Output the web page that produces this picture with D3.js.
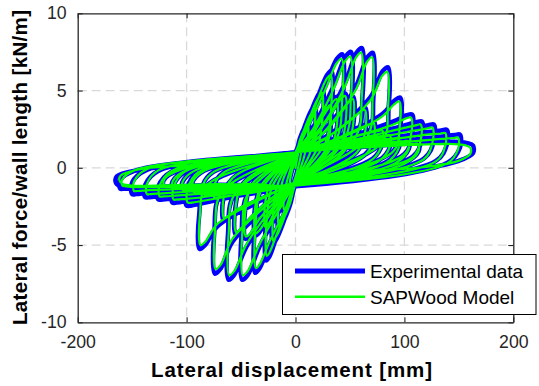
<!DOCTYPE html>
<html>
<head>
<meta charset="utf-8">
<script src="https://cdn.jsdelivr.net/npm/d3@7"></script>
<style>
  html, body { margin: 0; padding: 0; background: #fff; }
  svg { display: block; font-family: "Liberation Sans", Arial, Helvetica, sans-serif; }
</style>
</head>
<body>
<svg id="chart" width="539" height="386"></svg>
<script>
// Cyclic racking test of a wood shear wall: lateral displacement [mm] vs force per wall length [kN/m]
const xTicks = [-200, -100, 0, 100, 200];
const xTickLabels = ["-200", "-100", "0", "100", "200"];
const yTicks = [-10, -5, 0, 5, 10];
const yTickLabels = ["-10", "-5", "0", "5", "10"];
const seriesNames = ["Experimental data", "SAPWood Model"];
const seriesColors = ["#0000ff", "#00ff00"];

// Measured hysteresis, [displacement, force] in loading order
// (each primary cycle from 43 mm on is followed by a smaller trailing cycle)
const experimental = [
  [0,0],[3,1.2],[6,1.9],[5.5,1.0],[3,0.2],[0,-0.6],[-3,-1.3],[-6,-1.8],[-5.5,-0.9],[-3,-0.1],[0,0.6],
  [4,1.9],[9,2.7],[12,3.0],[11,1.6],[7,0.5],[0,-0.9],[-4,-1.9],[-8,-2.6],[-11,-2.9],[-10,-1.5],[-6,-0.4],[0,0.9],
  [6,2.2],[13,3.5],[16.5,3.95],[18,4.1],[18,2.6],[14,1.1],[0,-1.0],[-5,-2.4],[-12,-3.6],[-15,-3.9],[-16,-4.0],[-16,-2.4],[-12,-0.9],[0,1.0],
  [8,2.4],[18,4.3],[22.5,4.9],[25,5.1],[25,3.1],[20,1.3],[0,-1.1],[-7,-2.7],[-16,-4.4],[-19.5,-4.85],[-21,-5.0],[-21,-3.0],[-16.5,-1.1],[0,1.0],
  [10,2.6],[20,4.5],[29,6.0],[33,6.3],[33.3,3.9],[28,1.7],[0,-1.1],[-8,-2.8],[-17,-4.4],[-24,-5.75],[-27,-6.0],[-27.2,-3.6],[-22,-1.3],[0,1.0],
  [12,2.8],[27,5.2],[38,7.05],[43,7.35],[43.5,4.4],[38,1.9],[0,-1.1],[-10,-2.9],[-23,-4.8],[-33,-6.5],[-37,-6.8],[-37.5,-4.0],[-32,-1.5],[0,1.0],
  [10,1.8],[22,3.2],[29,4.0],[32,4.2],[32.3,2.6],[27,1.1],[0,-1.0],[-9,-1.9],[-20,-3.1],[-25.5,-3.85],[-28,-4.0],[-28.3,-2.4],[-23,-1.0],[0,1.0],
  [16,2.6],[35,5.3],[46,7.2],[51,7.5],[51.5,4.5],[46,2.0],[0,-1.1],[-14,-2.7],[-33,-5.1],[-44,-6.95],[-49,-7.25],[-49.5,-4.3],[-44,-1.7],[0,1.0],
  [12,1.8],[26,3.5],[34.5,4.4],[38,4.6],[38.3,2.8],[32,1.2],[0,-1.0],[-11,-1.9],[-26,-3.4],[-33.5,-4.2],[-37,-4.4],[-37.3,-2.6],[-31,-1.1],[0,1.0],
  [22,2.6],[45,5.4],[56,7.45],[61,7.75],[61.5,4.6],[56,2.1],[0,-1.1],[-20,-2.6],[-45,-5.1],[-56.5,-6.95],[-61.5,-7.25],[-62,-4.3],[-56,-1.7],[0,1.0],
  [15,1.8],[33,3.6],[42,4.6],[46,4.8],[46.3,3.0],[40,1.3],[0,-1.0],[-14,-1.9],[-33,-3.4],[-42,-4.4],[-46,-4.6],[-46.3,-2.8],[-40,-1.1],[0,1.0],
  [28,2.5],[55,5.2],[66,7.15],[71,7.45],[71.5,4.5],[66,2.0],[0,-1.0],[-26,-2.5],[-58,-4.8],[-69,-6.55],[-74,-6.85],[-74.5,-4.1],[-68,-1.6],[0,1.0],
  [18,1.8],[39,3.5],[49,4.4],[53,4.6],[53.3,2.9],[46,1.2],[0,-1.0],[-18,-1.8],[-40,-3.2],[-51,-4.1],[-55,-4.3],[-55.3,-2.6],[-48,-1.0],[0,1.0],
  [34,2.3],[69,4.6],[80,6.25],[85,6.5],[85.5,3.9],[80,1.7],[0,-1.0],[-34,-2.2],[-72,-3.8],[-83,-5.0],[-88,-5.25],[-88.5,-3.1],[-82,-1.2],[0,1.0],
  [22,1.7],[47,3.0],[59.5,3.75],[64,3.9],[64.3,2.4],[56,1.0],[0,-1.0],[-22,-1.7],[-49,-2.6],[-62,-3.25],[-66,-3.4],[-66.3,-2.0],[-58,-0.7],[0,1.0],
  [40,2.0],[80,3.5],[91,4.35],[96,4.55],[96.5,2.8],[90,1.1],[0,-1.0],[-40,-1.6],[-86,-2.3],[-96,-2.45],[-100,-2.45],[-100,-1.4],[-90,-0.3],[0,1.0],
  [26,1.6],[54,2.5],[67.5,2.9],[72,3.0],[72.2,1.9],[63,0.8],[0,-1.0],[-26,-1.5],[-57,-1.85],[-71,-2.0],[-75,-2.0],[-75.2,-1.2],[-66,-0.3],[0,1.0],
  [45,1.9],[90,3.0],[102,3.4],[107,3.45],[107,2.2],[100,0.9],[0,-1.05],[-45,-1.6],[-98,-2.15],[-109,-2.25],[-113,-2.25],[-113,-1.3],[-102,-0.3],[0,1.0],
  [30,1.5],[60,2.2],[75.5,2.45],[80,2.5],[80,1.6],[71,0.6],[0,-1.05],[-30,-1.4],[-65,-1.7],[-81,-1.8],[-85,-1.8],[-85,-1.1],[-75,-0.25],[0,1.0],
  [50,1.8],[98,2.7],[111,2.95],[116,3.0],[116,1.9],[108,0.75],[0,-1.1],[-50,-1.5],[-110,-1.95],[-122,-2.05],[-126,-2.05],[-126,-1.2],[-114,-0.25],[0,1.0],
  [33,1.5],[66,2.0],[82.5,2.15],[87,2.2],[87,1.4],[77,0.5],[0,-1.1],[-33,-1.35],[-73,-1.55],[-91,-1.6],[-95,-1.6],[-95,-1.0],[-84,-0.2],[0,1.0],
  [55,1.7],[108,2.55],[122,2.75],[127,2.8],[127,1.75],[118,0.6],[0,-1.15],[-55,-1.4],[-122,-1.8],[-134,-1.9],[-138,-1.9],[-138,-1.1],[-126,-0.2],[0,1.0],
  [36,1.45],[72,1.85],[90.5,1.97],[95,2.0],[95,1.3],[84,0.4],[0,-1.1],[-36,-1.3],[-80,-1.45],[-100,-1.5],[-104,-1.5],[-104,-0.95],[-92,-0.15],[0,1.0],
  [60,1.6],[120,2.3],[134,2.42],[139,2.45],[139,1.5],[129,0.45],[0,-1.15],[-60,-1.3],[-134,-1.6],[-146,-1.7],[-150,-1.7],[-150,-0.95],[-137,-0.15],[0,1.0],
  [40,1.4],[79,1.7],[99.5,1.78],[104,1.8],[104,1.2],[92,0.35],[0,-1.15],[-40,-1.2],[-87,-1.35],[-109,-1.4],[-113,-1.4],[-113,-0.9],[-100,-0.15],[0,1.0],
  [65,1.5],[131,2.0],[146,2.12],[151,2.15],[151,1.3],[140,0.35],[0,-1.2],[-65,-1.2],[-145,-1.35],[-157,-1.35],[-161,-1.35],[-161,-0.8],[-148,-0.2],[0,1.0],
  [43,1.35],[86,1.55],[108.5,1.6],[113,1.6],[113,1.05],[100,0.3],[0,-1.15],[-43,-1.1],[-94,-1.2],[-117,-1.2],[-121,-1.2],[-121,-0.8],[-107,-0.15],[0,1.0],
  [70,1.4],[140,1.7],[158,1.6],[163,1.45],[163,0.95],[150,0.45],[120,0.0],[47,-0.4],[0,-1.2],[-70,-1.1],[-150,-1.3],[-161,-1.2],[-165,-0.95],[-164,-0.55],[-144,-0.14],[-114,0.07],[-51,0.33],[0,1.0]
];

// SAPWood numerical prediction, [displacement, force] in loading order
const model = [
  [0,0],[3,1.1],[5.5,1.75],[5,0.9],[2.8,0.15],[0,-0.6],[-3,-1.2],[-5.5,-1.65],[-5,-0.8],[-2.8,-0.1],[0,0.6],
  [4,1.8],[8.8,2.55],[11.5,2.8],[10.5,1.5],[6.8,0.45],[0,-0.9],[-4,-1.8],[-7.8,-2.45],[-10.5,-2.7],[-9.5,-1.4],[-5.8,-0.35],[0,0.9],
  [6,2.1],[12.8,3.3],[16.2,3.7],[17.5,3.85],[17.5,2.5],[13.8,1.05],[0,-1.0],[-5,-2.3],[-11.8,-3.4],[-14.6,-3.65],[-15.5,-3.75],[-15.5,-2.3],[-11.8,-0.85],[0,1.0],
  [8,2.3],[17.8,4.1],[22.2,4.65],[24.5,4.85],[24.5,3.0],[19.8,1.25],[0,-1.05],[-7,-2.6],[-15.8,-4.2],[-19.2,-4.6],[-20.5,-4.75],[-20.5,-2.9],[-16.3,-1.05],[0,1.0],
  [10,2.5],[20,4.35],[28.6,5.75],[32.3,6.0],[32.6,3.8],[27.6,1.65],[0,-1.05],[-8,-2.7],[-17,-4.25],[-23.6,-5.45],[-26.3,-5.7],[-26.5,-3.5],[-21.6,-1.25],[0,1.0],
  [12,2.7],[27,5.0],[37.6,6.75],[42.3,7.05],[42.8,4.3],[37.6,1.85],[0,-1.05],[-10,-2.8],[-23,-4.65],[-32.6,-6.2],[-36.3,-6.5],[-36.8,-3.9],[-31.6,-1.45],[0,1.0],
  [10,1.75],[22,3.1],[28.7,3.85],[31.6,4.05],[31.9,2.5],[26.7,1.05],[0,-1.0],[-9,-1.85],[-20,-3.0],[-25.2,-3.7],[-27.6,-3.85],[-27.9,-2.3],[-22.7,-0.95],[0,1.0],
  [16,2.5],[35,5.1],[45.6,6.9],[50.3,7.2],[50.8,4.4],[45.6,1.95],[0,-1.05],[-14,-2.6],[-33,-4.95],[-43.6,-6.65],[-48.3,-6.95],[-48.8,-4.2],[-43.6,-1.65],[0,1.0],
  [12,1.75],[26,3.4],[34.1,4.25],[37.6,4.45],[37.9,2.7],[31.7,1.15],[0,-1.0],[-11,-1.85],[-26,-3.3],[-33.1,-4.05],[-36.6,-4.25],[-36.9,-2.5],[-30.7,-1.05],[0,1.0],
  [22,2.5],[45,5.2],[55.6,7.15],[60.3,7.45],[60.8,4.5],[55.6,2.05],[0,-1.05],[-20,-2.5],[-45,-4.95],[-56,-6.65],[-60.8,-6.95],[-61.3,-4.2],[-55.6,-1.65],[0,1.0],
  [15,1.75],[33,3.5],[41.6,4.45],[45.6,4.65],[45.9,2.9],[39.7,1.25],[0,-1.0],[-14,-1.85],[-33,-3.3],[-41.6,-4.25],[-45.6,-4.45],[-45.9,-2.7],[-39.7,-1.05],[0,1.0],
  [28,2.4],[55,5.0],[65.6,6.85],[70.3,7.15],[70.8,4.4],[65.6,1.95],[0,-0.95],[-26,-2.4],[-58,-4.6],[-68.5,-6.25],[-73.3,-6.55],[-73.8,-4.0],[-67.6,-1.55],[0,1.0],
  [18,1.75],[39,3.4],[48.6,4.25],[52.6,4.45],[52.9,2.8],[45.7,1.15],[0,-1.0],[-18,-1.75],[-40,-3.1],[-50.6,-3.95],[-54.6,-4.15],[-54.9,-2.5],[-47.7,-0.95],[0,1.0],
  [34,2.2],[69,4.4],[79.6,5.95],[84.3,6.2],[84.8,3.8],[79.6,1.65],[0,-0.95],[-34,-2.1],[-72,-3.65],[-82.5,-4.75],[-87.2,-5.0],[-87.7,-3.0],[-81.6,-1.15],[0,1.0],
  [22,1.65],[47,2.9],[59.1,3.6],[63.6,3.75],[63.9,2.3],[55.7,0.95],[0,-1.0],[-22,-1.65],[-49,-2.5],[-61.6,-3.1],[-65.6,-3.25],[-65.9,-1.9],[-57.7,-0.65],[0,1.0],
  [40,1.9],[80,3.35],[90.5,4.1],[95.2,4.3],[95.7,2.7],[89.6,1.05],[0,-0.95],[-40,-1.55],[-86,-2.15],[-95.2,-2.25],[-99,-2.25],[-99,-1.35],[-89.6,-0.3],[0,1.0],
  [26,1.55],[54,2.4],[67.1,2.8],[71.6,2.9],[71.8,1.8],[62.7,0.75],[0,-1.0],[-26,-1.45],[-57,-1.78],[-70.6,-1.92],[-74.6,-1.92],[-74.8,-1.15],[-65.7,-0.3],[0,1.0],
  [45,1.85],[90,2.8],[101.5,3.2],[106,3.25],[106,2.1],[99.6,0.85],[0,-1.0],[-45,-1.5],[-98,-2.0],[-108.3,-2.05],[-112,-2.05],[-112,-1.25],[-101.6,-0.25],[0,1.0],
  [30,1.45],[60,2.12],[75.1,2.37],[79.6,2.42],[79.6,1.55],[70.7,0.55],[0,-1.05],[-30,-1.35],[-65,-1.63],[-80.6,-1.73],[-84.6,-1.73],[-84.6,-1.05],[-74.7,-0.25],[0,1.0],
  [50,1.75],[98,2.55],[110.5,2.75],[115,2.8],[115,1.8],[107.6,0.7],[0,-1.05],[-50,-1.45],[-110,-1.8],[-121,-1.85],[-124.8,-1.85],[-124.8,-1.15],[-113.6,-0.2],[0,1.0],
  [33,1.45],[66,1.93],[82.1,2.08],[86.6,2.12],[86.6,1.35],[76.7,0.45],[0,-1.1],[-33,-1.3],[-73,-1.5],[-90.6,-1.54],[-94.6,-1.54],[-94.6,-0.95],[-83.7,-0.2],[0,1.0],
  [55,1.65],[108,2.4],[121.5,2.55],[125.8,2.6],[125.8,1.65],[117.6,0.55],[0,-1.1],[-55,-1.35],[-122,-1.65],[-133,-1.7],[-136.5,-1.7],[-136.5,-1.05],[-125.6,-0.15],[0,1.0],
  [36,1.4],[72,1.78],[90.1,1.9],[94.6,1.93],[94.6,1.25],[83.7,0.35],[0,-1.1],[-36,-1.25],[-80,-1.4],[-99.6,-1.44],[-103.6,-1.44],[-103.6,-0.9],[-91.7,-0.15],[0,1.0],
  [60,1.55],[120,2.15],[133.5,2.22],[137.5,2.25],[137.5,1.4],[128.6,0.4],[0,-1.1],[-60,-1.25],[-134,-1.45],[-145,-1.5],[-148.3,-1.5],[-148.3,-0.9],[-136.6,-0.1],[0,1.0],
  [40,1.35],[79,1.64],[99.1,1.72],[103.6,1.73],[103.6,1.15],[91.7,0.3],[0,-1.15],[-40,-1.15],[-87,-1.3],[-108.6,-1.35],[-112.6,-1.35],[-112.6,-0.85],[-99.7,-0.15],[0,1.0],
  [65,1.45],[131,1.85],[145.5,1.93],[149.3,1.95],[149.3,1.2],[139.6,0.3],[0,-1.15],[-65,-1.15],[-145,-1.25],[-155.6,-1.2],[-159,-1.15],[-159,-0.75],[-147.6,-0.15],[0,1.0],
  [43,1.3],[86,1.5],[108.1,1.54],[112.6,1.54],[112.6,1.0],[99.7,0.25],[0,-1.15],[-43,-1.05],[-94,-1.15],[-116.6,-1.15],[-120.6,-1.15],[-120.6,-0.75],[-106.7,-0.15],[0,1.0],
  [70,1.35],[140,1.55],[156.5,1.45],[160.5,1.3],[160.5,0.9],[149.6,0.45],[119.6,0.05],[47,-0.35],[0,-1.15],[-70,-1.05],[-150,-1.15],[-158.5,-1.05],[-161.5,-0.85],[-160.5,-0.5],[-143.8,-0.1],[-113.8,0.1],[-50.8,0.35],[0,1.0]
];

const svg = d3.select("#chart");
const plot = { left: 77.7, right: 513.3, top: 13.3, bottom: 322.3 };

const x = d3.scaleLinear().domain([-200, 200]).range([plot.left, plot.right]);
const y = d3.scaleLinear().domain([-10, 10]).range([plot.bottom, plot.top]);

// dashed grid on interior ticks
const grid = svg.append("g").attr("stroke", "#d9d9d9").attr("stroke-width", 1.3)
  .attr("stroke-dasharray", "9,5");
grid.selectAll("line.gx").data(xTicks.slice(1, -1)).join("line")
  .attr("x1", d => x(d)).attr("x2", d => x(d))
  .attr("y1", plot.top).attr("y2", plot.bottom);
grid.selectAll("line.gy").data(yTicks.slice(1, -1)).join("line")
  .attr("y1", d => y(d)).attr("y2", d => y(d))
  .attr("x1", plot.left).attr("x2", plot.right);

// hysteresis curves
const line = d3.line()
  .x(d => x(d[0])).y(d => y(d[1]))
  .curve(d3.curveCatmullRom.alpha(0.5));

svg.append("path").datum(experimental)
  .attr("d", line).attr("fill", "none")
  .attr("stroke", seriesColors[0]).attr("stroke-width", 4.5)
  .attr("stroke-linejoin", "round").attr("stroke-linecap", "round");

svg.append("path").datum(model)
  .attr("d", line).attr("fill", "none")
  .attr("stroke", seriesColors[1]).attr("stroke-width", 2.2)
  .attr("stroke-linejoin", "round").attr("stroke-linecap", "round");

// axes: boxed, ticks pointing inward on all four sides
const tickLen = 5;
const axisColor = "#262626";
const axBottom = svg.append("g").attr("transform", `translate(0,${plot.bottom})`)
  .call(d3.axisBottom(x).tickValues(xTicks).tickSizeInner(-tickLen).tickSizeOuter(0)
    .tickFormat((d, i) => xTickLabels[i]).tickPadding(13));
const axTop = svg.append("g").attr("transform", `translate(0,${plot.top})`)
  .call(d3.axisTop(x).tickValues(xTicks).tickSizeInner(-tickLen).tickSizeOuter(0).tickFormat(""));
const axLeft = svg.append("g").attr("transform", `translate(${plot.left},0)`)
  .call(d3.axisLeft(y).tickValues(yTicks).tickSizeInner(-tickLen).tickSizeOuter(0)
    .tickFormat((d, i) => yTickLabels[i]).tickPadding(11));
const axRight = svg.append("g").attr("transform", `translate(${plot.right},0)`)
  .call(d3.axisRight(y).tickValues(yTicks).tickSizeInner(-tickLen).tickSizeOuter(0).tickFormat(""));

[axBottom, axTop, axLeft, axRight].forEach(g => {
  g.attr("font-family", null);
  g.select(".domain").attr("stroke", axisColor).attr("stroke-width", 1.3);
  g.selectAll(".tick line").attr("stroke", axisColor).attr("stroke-width", 1.1);
  g.selectAll("text").attr("fill", axisColor)
    .style("font-family", '"Liberation Sans", Arial, sans-serif')
    .style("font-size", "17.7px");
});

// axis titles
svg.append("text")
  .attr("x", 291.5).attr("y", 377)
  .attr("text-anchor", "middle")
  .attr("font-weight", "bold").attr("font-size", "20.5px")
  .attr("textLength", 281).attr("lengthAdjust", "spacing")
  .attr("fill", "#000")
  .text("Lateral displacement [mm]");

svg.append("text")
  .attr("transform", "translate(27.3,167.5) rotate(-90)")
  .attr("text-anchor", "middle")
  .attr("font-weight", "bold").attr("font-size", "20.5px")
  .attr("textLength", 315).attr("lengthAdjust", "spacing")
  .attr("fill", "#000")
  .text("Lateral force/wall length [kN/m]");

// legend
const legend = svg.append("g");
legend.append("rect")
  .attr("x", 282.5).attr("y", 254.5).attr("width", 253.5).attr("height", 60)
  .attr("fill", "#fff").attr("stroke", "#000").attr("stroke-width", 1);
const legendRows = [271, 296.7];
const legendWidths = [4.8, 2.6];
seriesNames.forEach((name, i) => {
  legend.append("line")
    .attr("x1", 295).attr("x2", 365)
    .attr("y1", legendRows[i]).attr("y2", legendRows[i])
    .attr("stroke", seriesColors[i]).attr("stroke-width", legendWidths[i]);
  legend.append("text")
    .attr("x", 370).attr("y", legendRows[i] + 7)
    .attr("font-size", "19px").attr("fill", "#000")
    .text(name);
});
</script>
</body>
</html>
